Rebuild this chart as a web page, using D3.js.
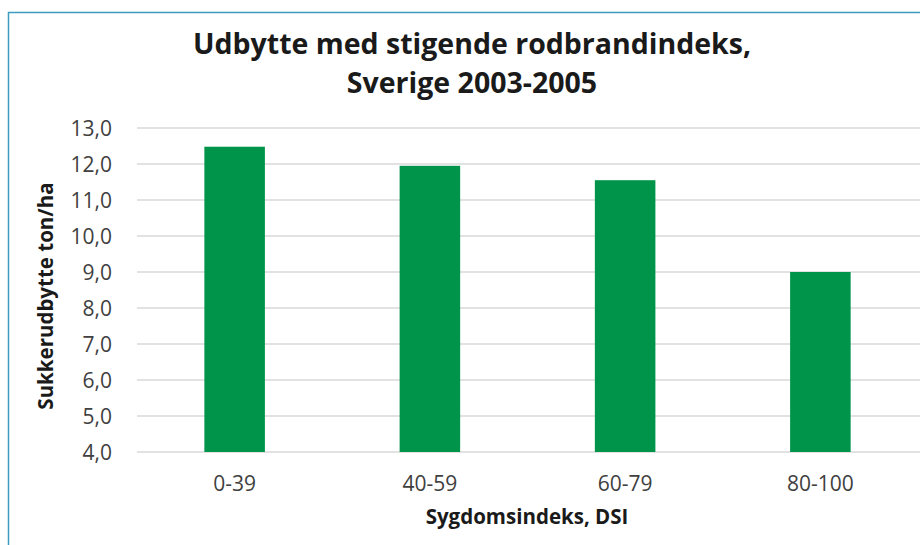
<!DOCTYPE html>
<html>
<head>
<meta charset="utf-8">
<script src="https://cdn.jsdelivr.net/npm/d3@7"></script>
<style>
  body { margin: 0; background: #fff; }
  svg { display: block; font-family: "Open Sans", Lato, sans-serif; }
</style>
</head>
<body>
<div id="chart"></div>
<script>
// data
const categories = ['0-39', '40-59', '60-79', '80-100'];
const yieldValues = [12.48, 11.95, 11.55, 9.0];
const yTicks = [4, 5, 6, 7, 8, 9, 10, 11, 12, 13];
const titleLines = ['Udbytte med stigende rodbrandindeks,', 'Sverige 2003-2005'];

const width = 920, height = 545;
const margin = {top: 128, right: 2, bottom: 93, left: 137};

const svg = d3.select('#chart').append('svg')
    .attr('width', width)
    .attr('height', height);

// frame
svg.append('path')
    .attr('d', `M8.5,${height} V12.5 H${width}`)
    .attr('fill', 'none')
    .attr('stroke', '#3f9cc1')
    .attr('stroke-width', 1.5);

const x = d3.scaleBand()
    .domain(categories)
    .range([margin.left, width - margin.right])
    .paddingInner(0.69)
    .paddingOuter(0.345);

const y = d3.scaleLinear()
    .domain([4, 13])
    .range([height - margin.bottom, margin.top]);

// gridlines
svg.append('g')
    .selectAll('line')
    .data(yTicks)
    .enter().append('line')
    .attr('x1', margin.left)
    .attr('x2', width)
    .attr('y1', d => y(d))
    .attr('y2', d => y(d))
    .attr('stroke', '#d9d9d9')
    .attr('stroke-width', 1.3);

// y tick labels
svg.append('g')
    .selectAll('text')
    .data(yTicks)
    .enter().append('text')
    .attr('x', 112)
    .attr('y', d => y(d))
    .attr('dy', '0.36em')
    .attr('text-anchor', 'end')
    .attr('font-size', 21)
    .attr('fill', '#404040')
    .text(d => d.toFixed(1).replace('.', ','));

// bars
svg.append('g')
    .selectAll('rect')
    .data(yieldValues)
    .enter().append('rect')
    .attr('x', (d, i) => x(categories[i]))
    .attr('width', x.bandwidth())
    .attr('y', d => y(d))
    .attr('height', d => y(4) - y(d))
    .attr('fill', '#00944a');

// x labels
svg.append('g')
    .selectAll('text')
    .data(categories)
    .enter().append('text')
    .attr('x', d => x(d) + x.bandwidth() / 2)
    .attr('y', 491)
    .attr('text-anchor', 'middle')
    .attr('font-size', 21)
    .attr('fill', '#404040')
    .text(d => d);

// title
svg.append('text')
    .attr('text-anchor', 'middle')
    .attr('font-size', 28.5)
    .attr('font-weight', 'bold')
    .attr('fill', '#1a1a1a')
    .selectAll('tspan')
    .data(titleLines)
    .enter().append('tspan')
    .attr('x', 472)
    .attr('y', (d, i) => 54 + i * 39)
    .text(d => d);

// axis titles
svg.append('text')
    .attr('x', 527)
    .attr('y', 524)
    .attr('text-anchor', 'middle')
    .attr('font-size', 20.5)
    .attr('font-weight', 'bold')
    .attr('fill', '#1a1a1a')
    .text('Sygdomsindeks, DSI');

svg.append('text')
    .attr('transform', 'translate(53,296) rotate(-90)')
    .attr('text-anchor', 'middle')
    .attr('font-size', 20.5)
    .attr('font-weight', 'bold')
    .attr('fill', '#1a1a1a')
    .text('Sukkerudbytte ton/ha');
</script>
</body>
</html>
